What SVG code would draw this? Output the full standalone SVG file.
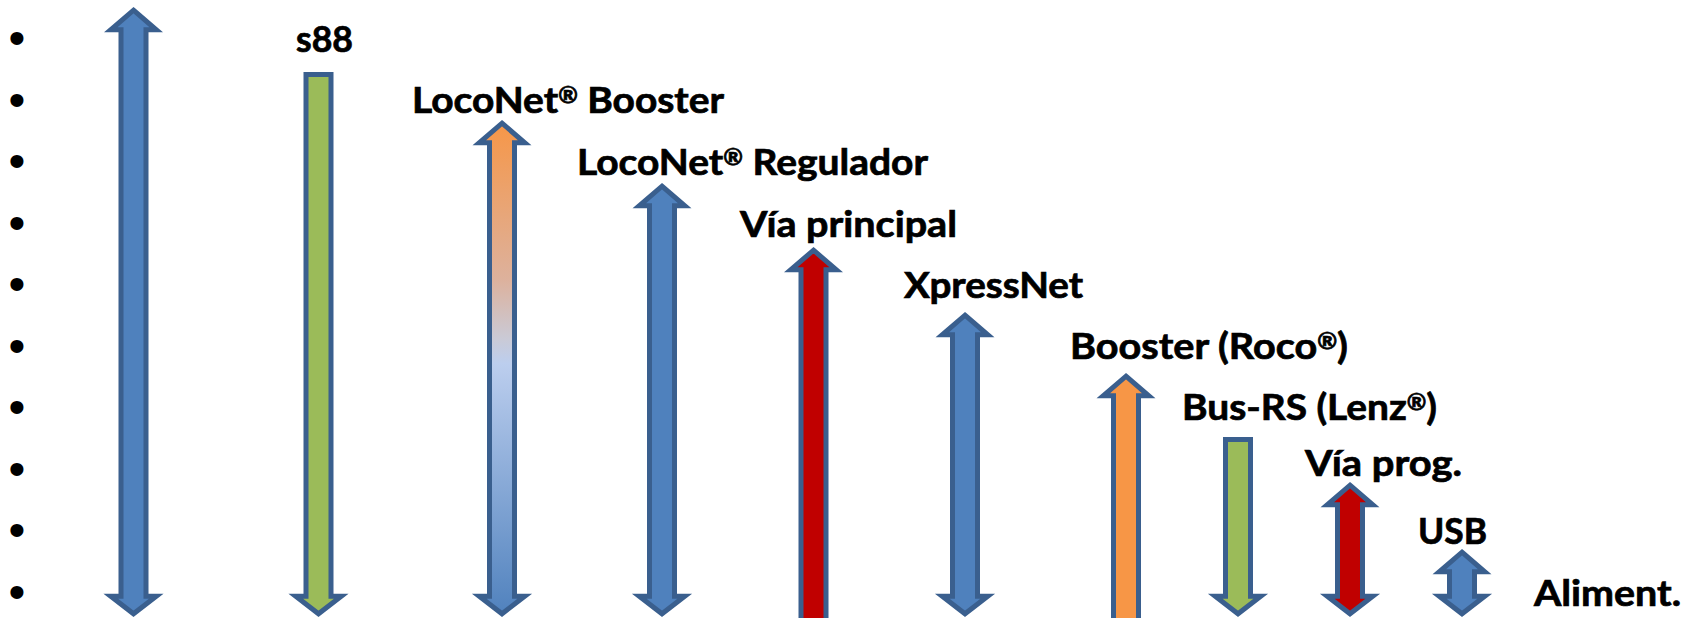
<svg xmlns="http://www.w3.org/2000/svg" width="1696" height="618" viewBox="0 0 1696 618">
<defs>
<style>
.lbl{font-family:Lato,"Open Sans","Liberation Sans",sans-serif;font-weight:bold;font-size:36px;fill:#000;stroke:#000;stroke-width:0.7px}
.reg{font-size:22px}
.bul{font-family:"Liberation Sans",Arial,sans-serif;font-size:48px;fill:#000}
.arr{stroke:#3A5F8E;stroke-width:5;stroke-linejoin:miter;stroke-miterlimit:10}
.blue{fill:#4F81BD}
.green{fill:#9BBB59}
.red{fill:#C00000}
.orange{fill:#F79646}
</style>
<linearGradient id="gradLN" x1="0" y1="120" x2="0" y2="617" gradientUnits="userSpaceOnUse">
<stop offset="0" stop-color="#F79646"/>
<stop offset="0.32" stop-color="#DDB19C"/>
<stop offset="0.44" stop-color="#CACAD6"/>
<stop offset="0.49" stop-color="#BCCEEE"/>
<stop offset="1" stop-color="#4F81BD"/>
</linearGradient>
</defs>
<rect width="1696" height="618" fill="#FFFFFF"/>
<g id="bullets">
<text class="bul" x="17" y="54" text-anchor="middle">•</text>
<text class="bul" x="17" y="115.5" text-anchor="middle">•</text>
<text class="bul" x="17" y="177" text-anchor="middle">•</text>
<text class="bul" x="17" y="238.5" text-anchor="middle">•</text>
<text class="bul" x="17" y="300" text-anchor="middle">•</text>
<text class="bul" x="17" y="361.5" text-anchor="middle">•</text>
<text class="bul" x="17" y="423" text-anchor="middle">•</text>
<text class="bul" x="17" y="484.5" text-anchor="middle">•</text>
<text class="bul" x="17" y="546" text-anchor="middle">•</text>
<text class="bul" x="17" y="607.5" text-anchor="middle">•</text>
</g>
<g id="connectors">
<path id="arrow-1" class="arr blue" d="M133.5,10.2 L156.25,29.75 H146 V596.25 H156.25 L133.5,613.8 L110.75,596.25 H121 V29.75 H110.75 Z"/>
<path id="arrow-s88" class="arr green" d="M306,74.5 H331 V596.25 H341.25 L318.5,613.8 L295.75,596.25 H306 Z"/>
<path id="arrow-lnbooster" class="arr" fill="url(#gradLN)" d="M502,123.2 L524.75,142.75 H514.5 V596.25 H524.75 L502,613.8 L479.25,596.25 H489.5 V142.75 H479.25 Z"/>
<path id="arrow-lnreg" class="arr blue" d="M662,186.2 L684.75,205.75 H674.5 V596.25 H684.75 L662,613.8 L639.25,596.25 H649.5 V205.75 H639.25 Z"/>
<path id="arrow-via" class="arr red" d="M813.5,250.2 L836.25,269.75 H826 V630 H801 V269.75 H790.75 Z"/>
<path id="arrow-xpress" class="arr blue" d="M965,315.2 L987.75,334.75 H977.5 V596.25 H987.75 L965,613.8 L942.25,596.25 H952.5 V334.75 H942.25 Z"/>
<path id="arrow-roco" class="arr orange" d="M1126,376.2 L1148.75,395.75 H1138.5 V630 H1113.5 V395.75 H1103.25 Z"/>
<path id="arrow-rs" class="arr green" d="M1225.5,439.5 H1250.5 V596.25 H1260.75 L1238,613.8 L1215.25,596.25 H1225.5 Z"/>
<path id="arrow-prog" class="arr red" d="M1350,485.2 L1372.75,504.75 H1362.5 V596.25 H1372.75 L1350,613.8 L1327.25,596.25 H1337.5 V504.75 H1327.25 Z"/>
<path id="arrow-usb" class="arr blue" d="M1462,552.2 L1484.75,571.75 H1474.5 V596.25 H1484.75 L1462,613.8 L1439.25,596.25 H1449.5 V571.75 H1439.25 Z"/>
</g>
<g id="node-s88"><text class="lbl" x="296" y="52" textLength="57" lengthAdjust="spacingAndGlyphs">s88</text></g>
<g id="node-lnbooster"><text class="lbl" x="412" y="113" textLength="312" lengthAdjust="spacingAndGlyphs">LocoNet<tspan class="reg" dy="-10">®</tspan><tspan dy="10"> Booster</tspan></text></g>
<g id="node-lnreg"><text class="lbl" x="577" y="175" textLength="351" lengthAdjust="spacingAndGlyphs">LocoNet<tspan class="reg" dy="-10">®</tspan><tspan dy="10"> Regulador</tspan></text></g>
<g id="node-via"><text class="lbl" x="740" y="237" textLength="217" lengthAdjust="spacingAndGlyphs">Vía principal</text></g>
<g id="node-xpress"><text class="lbl" x="904" y="298" textLength="179" lengthAdjust="spacingAndGlyphs">XpressNet</text></g>
<g id="node-roco"><text class="lbl" x="1070" y="359" textLength="278" lengthAdjust="spacingAndGlyphs">Booster (Roco<tspan class="reg" dy="-10">®</tspan><tspan dy="10">)</tspan></text></g>
<g id="node-rs"><text class="lbl" x="1182" y="420" textLength="255" lengthAdjust="spacingAndGlyphs">Bus-RS (Lenz<tspan class="reg" dy="-10">®</tspan><tspan dy="10">)</tspan></text></g>
<g id="node-prog"><text class="lbl" x="1305" y="476" textLength="157" lengthAdjust="spacingAndGlyphs">Vía prog.</text></g>
<g id="node-usb"><text class="lbl" x="1418" y="544" textLength="69" lengthAdjust="spacingAndGlyphs">USB</text></g>
<g id="node-aliment"><text class="lbl" x="1534" y="606" textLength="147" lengthAdjust="spacingAndGlyphs">Aliment.</text></g>
</svg>
